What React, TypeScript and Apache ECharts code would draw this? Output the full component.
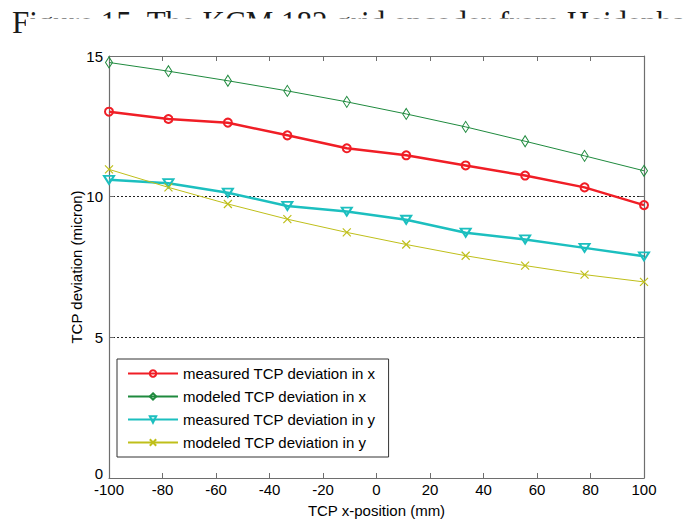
import React, { useEffect, useRef } from 'react';
import * as echarts from 'echarts';

const xPositions = [-100, -77.78, -55.56, -33.33, -11.11, 11.11, 33.33, 55.56, 77.78, 100];
const measuredX = [13.02, 12.76, 12.63, 12.18, 11.72, 11.47, 11.11, 10.75, 10.33, 9.7];
const modeledX = [14.77, 14.46, 14.12, 13.76, 13.37, 12.94, 12.48, 11.97, 11.45, 10.92];
const measuredY = [10.6, 10.48, 10.14, 9.67, 9.47, 9.18, 8.72, 8.48, 8.18, 7.88];
const modeledY = [10.97, 10.33, 9.74, 9.2, 8.73, 8.3, 7.9, 7.55, 7.23, 6.97];
const seriesNames = [
  'measured TCP deviation in x',
  'modeled TCP deviation in x',
  'measured TCP deviation in y',
  'modeled TCP deviation in y',
];
const captionText = 'Figure 15. The KCM 182 grid encoder from Heidenhain';
const xAxisName = 'TCP x-position (mm)';
const yAxisName = 'TCP deviation (micron)';

const RED = '#f01e26';
const GREEN = '#1f8a3e';
const CYAN = '#1cbfbf';
const OLIVE = '#bfbf1a';
const AXIS = '#6e6e6e';

export default function App() {
  const ref = useRef<HTMLDivElement>(null);
  useEffect(() => {
    const chart = echarts.init(ref.current!, null, { renderer: 'svg' });
    const pair = (ys: number[]) => xPositions.map((x, i) => [x, ys[i]]);
    const axisCommon = {
      axisLine: { show: true, onZero: false, lineStyle: { color: AXIS, width: 1.2 } },
      axisTick: { show: true, inside: true, length: 5, lineStyle: { color: AXIS, width: 1 } },
    };
    chart.setOption({
      animation: false,
      backgroundColor: '#fff',
      textStyle: { fontFamily: '"Liberation Sans", Arial, sans-serif' },
      grid: { left: 109, right: 42, top: 56, bottom: 44, outerBoundsMode: 'none', containLabel: false },
      graphic: [
        {
          type: 'text',
          x: 12,
          y: 22.5,
          z: 0,
          style: {
            text: captionText,
            font: '31px "Liberation Serif", serif',
            fill: '#1a1a1a',
            verticalAlign: 'middle',
          },
        },
        {
          type: 'rect',
          z: 1,
          shape: { x: 26, y: 18.5, width: 700, height: 28 },
          style: { fill: '#fff' },
        },
      ],
      legend: {
        orient: 'vertical',
        left: 117,
        top: 359,
        itemWidth: 50,
        itemHeight: 8,
        itemGap: 8,
        padding: [7, 13, 7, 10],
        borderColor: '#333',
        borderWidth: 1,
        backgroundColor: '#fff',
        textStyle: { fontSize: 15, color: '#000', lineHeight: 15 },
        data: seriesNames,
      },
      xAxis: [
        {
          type: 'value',
          min: -100,
          max: 100,
          interval: 20,
          position: 'bottom',
          name: xAxisName,
          nameLocation: 'middle',
          nameGap: 25,
          nameMoveOverlap: false,
          nameTextStyle: { fontSize: 15, color: '#000' },
          ...axisCommon,
          axisLabel: { fontSize: 15, color: '#000', margin: 5, lineHeight: 13 },
          splitLine: { show: false },
        },
        {
          type: 'value',
          min: -100,
          max: 100,
          interval: 20,
          position: 'top',
          ...axisCommon,
          axisLabel: { show: false },
          splitLine: { show: false },
        },
      ],
      yAxis: [
        {
          type: 'value',
          min: 0,
          max: 15,
          interval: 5,
          position: 'left',
          name: yAxisName,
          nameLocation: 'middle',
          nameGap: 25,
          nameMoveOverlap: false,
          nameTextStyle: { fontSize: 15, color: '#000' },
          ...axisCommon,
          axisLabel: {
            fontSize: 15,
            color: '#000',
            margin: 6,
            lineHeight: 12,
            formatter: (v: number) => (v === 0 ? '{zero|0}' : String(v)),
            rich: { zero: { fontSize: 15, color: '#000', lineHeight: 12, padding: [0, 0, 10, 0] } },
          },
          splitLine: {
            show: true,
            showMinLine: false,
            showMaxLine: false,
            lineStyle: { color: '#222', type: [2, 2], width: 1 },
          },
        },
        {
          type: 'value',
          min: 0,
          max: 15,
          interval: 5,
          position: 'right',
          ...axisCommon,
          axisLabel: { show: false },
          splitLine: { show: false },
        },
      ],
      series: [
        {
          type: 'line',
          name: seriesNames[0],
          data: pair(measuredX),
          symbol: 'circle',
          symbolSize: 8,
          itemStyle: { color: 'rgba(255,255,255,0)', borderColor: RED, borderWidth: 2 },
          lineStyle: { color: RED, width: 2.5 },
        },
        {
          type: 'line',
          name: seriesNames[1],
          data: pair(modeledX),
          symbol: 'diamond',
          symbolSize: [7, 11],
          itemStyle: { color: 'rgba(255,255,255,0)', borderColor: GREEN, borderWidth: 1 },
          lineStyle: { color: GREEN, width: 1 },
        },
        {
          type: 'line',
          name: seriesNames[2],
          data: pair(measuredY),
          symbol: 'triangle',
          symbolRotate: 180,
          symbolSize: [10, 8],
          itemStyle: { color: 'rgba(255,255,255,0)', borderColor: CYAN, borderWidth: 2 },
          lineStyle: { color: CYAN, width: 2.5 },
        },
        {
          type: 'line',
          name: seriesNames[3],
          data: pair(modeledY),
          symbol: 'path://M0,0L10,10M10,0L0,10',
          symbolSize: 8,
          itemStyle: { color: 'rgba(255,255,255,0)', borderColor: OLIVE, borderWidth: 1.2 },
          lineStyle: { color: OLIVE, width: 1 },
        },
      ],
    });
    return () => chart.dispose();
  }, []);
  return (
    <div
      ref={ref}
      style={{ position: 'fixed', left: 0, top: 0, width: 686, height: 522, background: '#fff' }}
    />
  );
}
